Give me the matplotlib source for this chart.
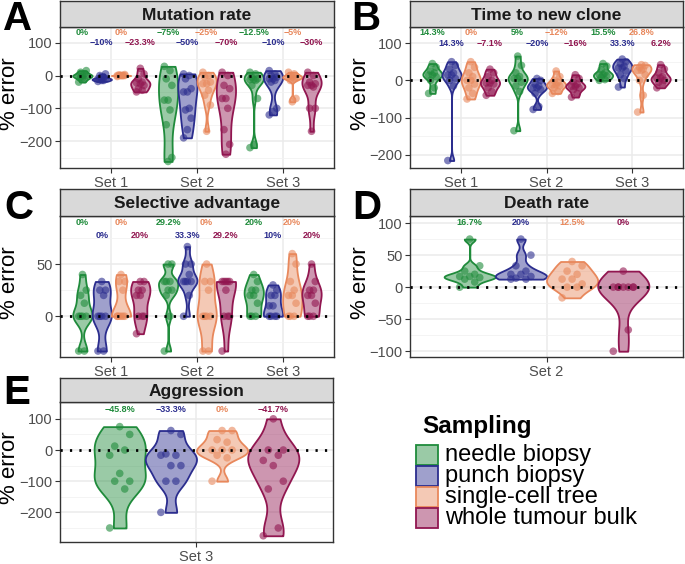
import numpy as np
import matplotlib.pyplot as plt
from matplotlib.colors import to_rgba
from matplotlib.patches import Rectangle

plt.rcParams['font.family'] = ['Liberation Sans', 'DejaVu Sans']

W, H = 685, 564

groups = ['needle biopsy', 'punch biopsy', 'single-cell tree', 'whole tumour bulk']
colors = ['#1f8b3b', '#2b2d8e', '#e8885c', '#911650']

sets3 = ['Set 1', 'Set 2', 'Set 3']

# A - mutation rate, one list per sampling method inside each set
mut_set1 = [[-20, -12, -5, 0, 0, 0, 5, 10, 15, -8],
            [-18, -15, -12, -10, -10, -10, -5, 0, 5, -15],
            [-3, 0, 0, 0, 0, 0, 0, 2, 3, 0],
            [-50, -45, -40, -30, -25, -22, -20, -10, 5, 22]]
mut_set2 = [[28, 15, -10, -30, -75, -75, -105, -150, -250, -262],
            [5, 0, -10, -40, -50, -50, -100, -105, -130, -165, -190],
            [10, 0, -5, -20, -25, -25, -45, -60, -90, -170],
            [10, 0, -30, -40, -70, -70, -100, -165, -210, -240]]
mut_set3 = [[10, 5, -5, -10, -12.5, -12.5, -15, -30, -70, -210, -220],
            [15, 5, 0, -5, -10, -10, -15, -20, -100, -110, -120],
            [10, 5, 0, -5, -5, -5, -10, -15, -70, -80],
            [10, 0, -20, -25, -30, -30, -35, -100, -100, -170]]
mut_labels = [['0%', '−10%', '0%', '−23.3%'],
              ['−75%', '−50%', '−25%', '−70%'],
              ['−12.5%', '−10%', '−5%', '−30%']]

# B - time to new clone
clone_set1 = [[-35, -20, 0, 10, 14.3, 14.3, 20, 25, 35, 45],
              [-215, -15, 0, 5, 14.3, 14.3, 20, 30, 40, 50],
              [-50, -35, -20, -10, 0, 0, 10, 20, 35, 50],
              [-40, -30, -20, -10, -7.1, -7.1, 0, 10, 20, 30]]
clone_set2 = [[-135, -30, -15, -5, 5, 5, 10, 20, 40, 65],
              [-78, -70, -35, -25, -20, -20, -15, -10, 0, 5],
              [-35, -30, -20, -15, -12, -12, -5, 0, 10, 25],
              [-45, -35, -25, -20, -16, -16, -10, -5, 5, 15]]
clone_set3 = [[0, 2, 8, 12, 15.5, 15.5, 20, 28, 38, 45],
              [-18, 5, 15, 25, 33.3, 33.3, 38, 45, 50, 57],
              [-85, -40, 0, 15, 26.8, 26.8, 30, 35, 40, 42],
              [-20, -10, -5, 0, 6.2, 6.2, 10, 20, 30, 42]]
clone_labels = [['14.3%', '14.3%', '0%', '−7.1%'],
                ['5%', '−20%', '−12%', '−16%'],
                ['15.5%', '33.3%', '26.8%', '6.2%']]

# C - selective advantage
sel_set1 = [[-33.3, -33.3, 0, 0, 0, 0, 12.5, 20, 25, 40],
            [-33.3, -33.3, 0, 0, 0, 0, 20, 25, 25, 33.3],
            [0, 0, 0, 0, 0, 0, 25, 33.3, 33.3, 40],
            [-16.7, 0, 0, 0, 20, 20, 25, 25, 33.3, 33.3]]
sel_set2 = [[-33.3, 0, 20, 25, 25, 33.3, 33.3, 33.3, 50, 50],
            [0, 20, 33.3, 33.3, 33.3, 33.3, 40, 50, 50, 66.7],
            [-33.3, -33.3, 0, 0, 0, 0, 25, 33.3, 33.3, 50],
            [-33.3, 0, 0, 0, 25, 33.3, 33.3, 33.3, 33.3, 33.3]]
sel_set3 = [[0, 0, 0, 12.5, 20, 20, 25, 25, 33.3, 40],
            [0, 0, 0, 0, 10, 10, 20, 20, 25, 30],
            [0, 0, 0, 12.5, 20, 20, 25, 33.3, 50, 60],
            [0, 0, 0, 12.5, 20, 20, 25, 25, 33.3, 50]]
sel_labels = [['0%', '0%', '0%', '20%'],
              ['29.2%', '33.3%', '0%', '29.2%'],
              ['20%', '10%', '20%', '20%']]

# D - death rate (Set 2 only)
death_set2 = [[0, 8, 12.5, 15, 16.7, 16.7, 20, 25, 33.3, 75],
              [12.5, 12.5, 14, 16.7, 20, 20, 25, 33.3, 50, 75],
              [-16.7, 0, 0, 5, 12.5, 12.5, 20, 25, 33.3, 40],
              [-100, -66.7, 0, 0, 0, 0, 0, 0, 0, 25]]
death_labels = [['16.7%', '20%', '12.5%', '0%']]

# E - aggression (Set 3 only)
aggr_set3 = [[-250, -125, -100, -100, -75, -16.7, 0, 12.5, 50, 75],
             [-200, -100, -100, -50, -50, -16.7, -16.7, -12.5, 50, 62.5],
             [-100, -25, -16.7, 0, 0, 0, 25, 33.3, 62.5, 62.5],
             [-275, -250, -125, -100, -50, -33.3, -16.7, 0, 0, 100]]
aggr_labels = [['−45.8%', '−33.3%', '0%', '−41.7%']]


def px(x0, y0, x1, y1):
    return [x0 / W, 1 - y1 / H, (x1 - x0) / W, (y1 - y0) / H]


def nrd0(kde):
    # same rule of thumb as R's bw.nrd0, returned as a factor of the sd
    x = np.ravel(kde.dataset)
    sd = x.std(ddof=1)
    q75, q25 = np.percentile(x, [75, 25])
    lo = min(sd, (q75 - q25) / 1.34)
    if lo == 0:
        lo = sd
    return 0.9 * lo * len(x) ** -0.2 / sd


fig = plt.figure(figsize=(W / 100, H / 100), dpi=100)


def panel(box, strip_top, title, data, xlabels, labels, label_y, ylim, yticks, yminor, letter, letter_xy):
    x0, y0, x1, y1 = box
    ax = fig.add_axes(px(*box))
    dw = 0.225
    for i, grp in enumerate(data):
        for j, vals in enumerate(grp):
            vals = np.array(vals, dtype=float)
            pos = i + 1 + (j - 1.5) * dw
            vp = ax.violinplot([vals], positions=[pos], widths=dw, showextrema=False,
                               bw_method=nrd0, points=300)
            for b in vp['bodies']:
                b.set_alpha(None)
                b.set_facecolor(to_rgba(colors[j], 0.45))
                b.set_edgecolor(colors[j])
                b.set_linewidth(1.3)
                b.set_zorder(2)
            n = len(vals)
            offs = (((np.arange(n) * 3) % 5) - 2) * 0.022
            ax.scatter(pos + offs, vals, s=30, color=colors[j], alpha=0.6,
                       edgecolors='none', zorder=3)
            ax.text(pos, label_y[j % len(label_y)], labels[i][j], color=colors[j],
                    ha='center', va='center', fontsize=6.5, fontweight='bold')
    ax.axhline(0, color='black', ls=(0, (0.8, 2.6)), lw=2, zorder=4)
    ax.set_xlim(0.4, len(data) + 0.6)
    ax.set_xticks(range(1, len(data) + 1))
    ax.set_xticklabels(xlabels)
    ax.set_ylim(*ylim)
    ax.set_yticks(yticks)
    ax.set_yticks(yminor, minor=True)
    ax.grid(which='major', color='#ebebeb', lw=1.1)
    ax.grid(which='minor', axis='y', color='#f2f2f2', lw=0.6)
    ax.set_axisbelow(True)
    ax.tick_params(which='major', length=3.5, pad=2, color='#333333', labelcolor='#4d4d4d', labelsize=10.5)
    ax.tick_params(which='minor', length=0)
    for s in ax.spines.values():
        s.set_color('#333333')
        s.set_linewidth(1)
    sx = fig.add_axes(px(x0, strip_top, x1, y0))
    sx.set_facecolor('#d9d9d9')
    sx.set_xticks([])
    sx.set_yticks([])
    for s in sx.spines.values():
        s.set_color('#333333')
        s.set_linewidth(1)
    sx.text(0.5, 0.45, title, ha='center', va='center', fontsize=12.5,
            fontweight='bold', color='#1a1a1a', transform=sx.transAxes)
    fig.text((x0 - 50) / W, 1 - ((y0 + y1) / 2 - 4) / H, '% error', rotation=90,
             ha='center', va='center', fontsize=16)
    fig.text(letter_xy[0] / W, 1 - letter_xy[1] / H, letter, fontsize=29,
             fontweight='bold', ha='left', va='top')
    return ax


panel((60, 27, 334, 168), 1, 'Mutation rate', [mut_set1, mut_set2, mut_set3], sets3,
      mut_labels, (130, 100), (-282, 148), [-200, -100, 0, 100], [-250, -150, -50, 50],
      'A', (3, 0))
panel((410, 27, 683, 168), 1, 'Time to new clone', [clone_set1, clone_set2, clone_set3], sets3,
      clone_labels, (128, 99), (-235, 143), [-200, -100, 0, 100], [-150, -50, 50],
      'B', (351, 0))
panel((60, 216, 334, 357), 189, 'Selective advantage', [sel_set1, sel_set2, sel_set3], sets3,
      sel_labels, (90, 77), (-39, 96), [0, 50], [-25, 25, 75],
      'C', (4, 189))
panel((410, 216, 683, 357), 189, 'Death rate', [death_set2], ['Set 2'],
      death_labels, (101,), (-109, 111), [-100, -50, 0, 50, 100], [-75, -25, 25, 75],
      'D', (352, 189))
panel((60, 402, 333, 542), 378, 'Aggression', [aggr_set3], ['Set 3'],
      aggr_labels, (129,), (-295, 154), [-200, -100, 0, 100], [-250, -150, -50, 50],
      'E', (3, 374))

# legend
lax = fig.add_axes(px(400, 400, 685, 564))
lax.set_xlim(0, 285)
lax.set_ylim(164, 0)
lax.axis('off')
lax.text(22, 27, 'Sampling', fontsize=17.5, fontweight='bold', ha='left', va='center')
for k, (g, c) in enumerate(zip(groups, colors)):
    yc = 55 + k * 21
    lax.add_patch(Rectangle((16, yc - 10), 22, 20, facecolor=to_rgba(c, 0.45),
                            edgecolor=c, lw=1.3))
    lax.text(45, yc, g, fontsize=17, ha='left', va='center')

fig.savefig('out.png', dpi=100)
